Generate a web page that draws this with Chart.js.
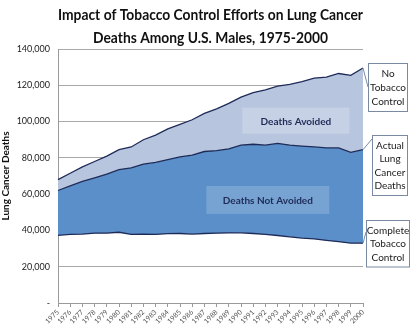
<!DOCTYPE html>
<html>
<head>
<meta charset="utf-8">
<script src="https://cdn.jsdelivr.net/npm/chart.js@4.4.0/dist/chart.umd.min.js"></script>
<style>
  html, body { margin: 0; padding: 0; background: #fff; }
  #wrap { width: 419px; height: 335px; }
</style>
</head>
<body>
<div id="wrap"><canvas id="chart" width="419" height="335"></canvas></div>
<script>
const years = ['1975','1976','1977','1978','1979','1980','1981','1982','1983','1984','1985','1986','1987',
               '1988','1989','1990','1991','1992','1993','1994','1995','1996','1997','1998','1999','2000'];

// No tobacco control scenario (top line)
const noControl = [68000, 71500, 75000, 78000, 81000, 84500, 86000, 90000, 92500, 96000, 98500, 101000, 104500,
                   107000, 110000, 113500, 116000, 117500, 119500, 120500, 122000, 124000, 124500, 126500, 125500, 129500];
// Actual lung cancer deaths (middle line)
const actual = [62000, 64500, 67000, 69000, 71000, 73500, 74500, 76500, 77500, 79000, 80500, 81500, 83500,
                84000, 85000, 87000, 87500, 87000, 88000, 87000, 86500, 86000, 85500, 85500, 83000, 84500];
// Complete tobacco control scenario (bottom line)
const completeControl = [37300, 37800, 38000, 38500, 38500, 39000, 37800, 38000, 37800, 38200, 38300, 38000, 38300,
                         38500, 38600, 38700, 38300, 37800, 37200, 36500, 35800, 35300, 34500, 33800, 33000, 33000];

const yTicks = [0, 20000, 40000, 60000, 80000, 100000, 120000, 140000];

const titleLines = ['Impact of Tobacco Control Efforts on Lung Cancer', 'Deaths Among U.S. Males, 1975-2000'];

const FONT = 'Lato, "Open Sans", sans-serif';
const NAVY = '#1f2b57';

// title drawn by hand so it can be squeezed to the narrow look of the original
const titlePlugin = {
    id: 'narrowTitle',
    afterDraw(chart) {
        const ctx = chart.ctx;
        ctx.save();
        ctx.font = 'bold 16px ' + FONT;
        ctx.fillStyle = '#111';
        ctx.textAlign = 'center';
        ctx.textBaseline = 'middle';
        const sx = 305 / ctx.measureText(titleLines[0]).width;
        const cx = (chart.chartArea.left + chart.chartArea.right) / 2;
        ctx.translate(cx, 0);
        ctx.scale(sx, 1);
        ctx.fillText(titleLines[0], 0, 15);
        ctx.fillText(titleLines[1], 0, 38);
        ctx.restore();
    }
};

const labelsPlugin = {
    id: 'labels',
    afterDatasetsDraw(chart) {
        const ctx = chart.ctx;
        const x = chart.scales.x, y = chart.scales.y;
        const last = years.length - 1;

        ctx.save();
        // inner area labels
        function innerLabel(text, cx, cy, w, h, fill) {
            ctx.fillStyle = fill;
            ctx.fillRect(cx - w / 2, cy - h / 2, w, h);
            ctx.fillStyle = NAVY;
            ctx.font = 'bold 10px ' + FONT;
            ctx.textAlign = 'center';
            ctx.textBaseline = 'middle';
            ctx.fillText(text, cx, cy + 1);
        }
        innerLabel('Deaths Avoided', x.getPixelForValue(19.5), y.getPixelForValue(100500), 107, 26, 'rgba(255,255,255,0.22)');
        innerLabel('Deaths Not Avoided', x.getPixelForValue(17.2), y.getPixelForValue(56800), 123, 28, 'rgba(255,255,255,0.18)');

        // callout boxes at right
        function callout(lines, left, top, w, lh, endVal, attachY) {
            const h = lines.length * lh + 6;
            const px = x.getPixelForValue(last), py = y.getPixelForValue(endVal);
            ctx.strokeStyle = '#7b8aa3';
            ctx.lineWidth = 1;
            ctx.beginPath();
            ctx.moveTo(px, py);
            ctx.lineTo(left, top + attachY);
            ctx.stroke();
            ctx.fillStyle = '#fff';
            ctx.fillRect(left, top, w, h);
            ctx.strokeRect(left + 0.5, top + 0.5, w, h);
            ctx.fillStyle = '#1a1a1a';
            ctx.font = '10px ' + FONT;
            ctx.textAlign = 'center';
            ctx.textBaseline = 'middle';
            lines.forEach((t, i) => ctx.fillText(t, left + w / 2 + 0.5, top + 3 + lh / 2 + i * lh + 1));
        }
        const right = chart.chartArea.right;
        callout(['No', 'Tobacco', 'Control'], right + 5, 63, 39, 14, noControl[last], 24);
        callout(['Actual', 'Lung', 'Cancer', 'Deaths'], right + 9, 135, 35, 13.5, actual[last], 4);
        callout(['Complete', 'Tobacco', 'Control'], right + 3, 220, 43, 13.5, completeControl[last], 12);
        ctx.restore();
    }
};

new Chart(document.getElementById('chart'), {
    type: 'line',
    data: {
        labels: years,
        datasets: [
            {
                label: 'Complete Tobacco Control',
                data: completeControl,
                borderColor: NAVY,
                borderWidth: 1.3,
                pointRadius: 0,
                fill: false,
                tension: 0
            },
            {
                label: 'Actual Lung Cancer Deaths',
                data: actual,
                borderColor: NAVY,
                borderWidth: 1.3,
                backgroundColor: '#5a8fc9',
                pointRadius: 0,
                fill: '-1',
                tension: 0
            },
            {
                label: 'No Tobacco Control',
                data: noControl,
                borderColor: NAVY,
                borderWidth: 1.3,
                backgroundColor: '#b7c5df',
                pointRadius: 0,
                fill: '-1',
                tension: 0
            }
        ]
    },
    options: {
        responsive: false,
        animation: false,
        layout: { padding: { left: 0, right: 56, top: 49, bottom: 0 } },
        plugins: {
            legend: { display: false },
            tooltip: { enabled: false },
            title: { display: false }
        },
        scales: {
            x: {
                offset: false,
                grid: { display: true, drawOnChartArea: false, tickLength: 4, color: '#9a9a9a' },
                border: { color: '#9a9a9a' },
                ticks: {
                    autoSkip: false, maxRotation: 45, minRotation: 45,
                    color: '#555', font: { family: FONT, size: 7 }, padding: 1
                },
                afterFit: s => { s.height = 32; }
            },
            y: {
                min: 0, max: 140000,
                afterBuildTicks: s => { s.ticks = yTicks.map(v => ({ value: v })); },
                grid: { color: '#a8a8a8', drawTicks: false },
                border: { color: '#9a9a9a' },
                ticks: {
                    color: '#222', font: { family: FONT, size: 9 }, padding: 8,
                    callback: v => v === 0 ? '-' : v.toLocaleString('en-US')
                },
                title: {
                    display: true, text: 'Lung Cancer Deaths', color: '#111',
                    font: { family: FONT, size: 10, weight: 'bold' }, padding: 0
                },
                afterFit: s => { s.width = 58; }
            }
        }
    },
    plugins: [labelsPlugin, titlePlugin]
});
</script>
</body>
</html>
